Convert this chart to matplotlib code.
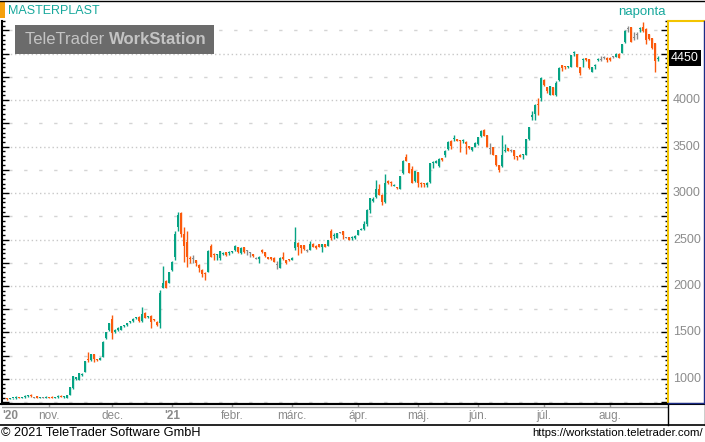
import numpy as np
import pandas as pd
import matplotlib
matplotlib.use('Agg')
import matplotlib.pyplot as plt
from matplotlib.lines import Line2D
from matplotlib.patches import Rectangle

plt.rcParams['font.family'] = ['Liberation Sans', 'DejaVu Sans']

# daily OHLC, MASTERPLAST, Oct 2020 - Aug 2021
opens = [795, 785, 792, 798, 806, 798, 805, 814, 826, 800,
         812, 800, 801, 800, 806, 808, 800, 802, 820, 806,
         800, 830, 900, 1005, 992, 1045, 1080, 1215, 1205, 1265,
         1215, 1205, 1240, 1440, 1525, 1645, 1500, 1530, 1530, 1565,
         1580, 1610, 1620, 1655, 1670, 1620, 1710, 1665, 1675, 1638,
         1615, 1605, 1980, 2055, 2035, 2170, 2315, 2630, 2785, 2560,
         2470, 2305, 2300, 2275, 2225, 2170, 2145, 2155, 2425, 2345,
         2330, 2300, 2345, 2362, 2350, 2362, 2386, 2415, 2351, 2415,
         2379, 2362, 2340, 2300, 2290, 2387, 2362, 2308, 2308, 2305,
         2230, 2198, 2315, 2276, 2290, 2280, 2404, 2465, 2440, 2440,
         2380, 2390, 2447, 2432, 2447, 2422, 2447, 2430, 2589, 2535,
         2520, 2576, 2587, 2522, 2522, 2512, 2518, 2548, 2605, 2610,
         2667, 2820, 2915, 2957, 3043, 2982, 2900, 3134, 3112, 3080,
         3065, 3043, 3210, 3387, 3319, 3253, 3127, 3225, 3110, 3105,
         3090, 3115, 3325, 3325, 3290, 3377, 3408, 3472, 3560, 3578,
         3577, 3563, 3558, 3550, 3507, 3461, 3500, 3525, 3610, 3683,
         3620, 3480, 3496, 3408, 3296, 3290, 3450, 3482, 3454, 3461,
         3395, 3412, 3408, 3412, 3577, 3820, 3850, 3955, 4020, 4220,
         4135, 4058, 4138, 4051, 4220, 4373, 4360, 4350, 4359, 4505,
         4493, 4355, 4430, 4450, 4438, 4305, 4370, 4435, 4440, 4455,
         4455, 4455, 4465, 4465, 4500, 4510, 4620, 4765, 4782, 4675,
         4700, 4760, 4790, 4765, 4710, 4663, 4610, 4440]
highs = [800, 797, 800, 812, 810, 803, 826, 828, 835, 804,
         820, 804, 804, 812, 808, 812, 803, 824, 823, 818,
         830, 915, 1035, 1020, 1065, 1062, 1195, 1295, 1270, 1270,
         1220, 1235, 1405, 1510, 1605, 1690, 1540, 1555, 1575, 1580,
         1605, 1625, 1655, 1668, 1680, 1770, 1720, 1680, 1685, 1642,
         1620, 1955, 2215, 2060, 2155, 2265, 2590, 2800, 2795, 2630,
         2590, 2320, 2335, 2285, 2235, 2180, 2150, 2385, 2450, 2355,
         2345, 2380, 2365, 2368, 2375, 2380, 2440, 2420, 2415, 2420,
         2385, 2368, 2345, 2315, 2320, 2400, 2365, 2312, 2312, 2308,
         2265, 2310, 2369, 2280, 2295, 2310, 2635, 2470, 2445, 2445,
         2395, 2482, 2460, 2436, 2450, 2452, 2450, 2498, 2617, 2565,
         2575, 2580, 2592, 2530, 2525, 2540, 2545, 2605, 2620, 2700,
         2825, 2950, 2955, 3140, 3100, 2990, 3200, 3140, 3125, 3098,
         3070, 3185, 3360, 3420, 3325, 3290, 3240, 3230, 3115, 3110,
         3115, 3325, 3345, 3350, 3375, 3380, 3458, 3558, 3565, 3620,
         3582, 3568, 3578, 3555, 3510, 3495, 3545, 3605, 3683, 3690,
         3625, 3540, 3500, 3412, 3300, 3620, 3530, 3486, 3478, 3468,
         3400, 3416, 3420, 3580, 3712, 3880, 3952, 4020, 4245, 4225,
         4140, 4155, 4142, 4200, 4352, 4378, 4365, 4370, 4485, 4530,
         4497, 4360, 4450, 4455, 4442, 4355, 4390, 4455, 4475, 4470,
         4460, 4460, 4475, 4505, 4505, 4605, 4750, 4795, 4790, 4730,
         4730, 4790, 4840, 4770, 4715, 4668, 4615, 4470]
lows = [772, 782, 788, 790, 796, 795, 796, 810, 806, 796,
        798, 797, 797, 796, 798, 798, 796, 800, 805, 800,
        796, 825, 895, 985, 985, 1035, 1075, 1180, 1198, 1180,
        1195, 1200, 1235, 1430, 1520, 1430, 1490, 1520, 1525, 1555,
        1575, 1605, 1615, 1650, 1610, 1615, 1655, 1655, 1550, 1620,
        1570, 1550, 1975, 1975, 2030, 2165, 2280, 2590, 2530, 2260,
        2200, 2250, 2250, 2220, 2150, 2100, 2060, 2150, 2310, 2280,
        2280, 2285, 2335, 2325, 2333, 2355, 2380, 2355, 2345, 2355,
        2333, 2315, 2315, 2287, 2250, 2355, 2315, 2290, 2280, 2255,
        2180, 2190, 2280, 2240, 2272, 2275, 2390, 2330, 2351, 2390,
        2370, 2385, 2418, 2400, 2418, 2370, 2418, 2425, 2500, 2510,
        2515, 2570, 2510, 2515, 2495, 2495, 2510, 2545, 2600, 2605,
        2650, 2790, 2905, 2950, 2975, 2870, 2895, 3100, 3080, 3075,
        3045, 3040, 3205, 3340, 3210, 3105, 3120, 3070, 3070, 3060,
        3060, 3110, 3270, 3320, 3280, 3340, 3390, 3468, 3470, 3560,
        3555, 3437, 3535, 3420, 3475, 3455, 3495, 3520, 3605, 3610,
        3490, 3420, 3405, 3290, 3225, 3285, 3440, 3450, 3440, 3370,
        3355, 3385, 3365, 3408, 3570, 3790, 3790, 3840, 3990, 4155,
        4080, 4050, 4050, 4045, 4200, 4310, 4335, 4340, 4355, 4475,
        4350, 4270, 4350, 4425, 4335, 4300, 4330, 4420, 4425, 4445,
        4410, 4425, 4455, 4460, 4450, 4505, 4615, 4730, 4620, 4650,
        4655, 4730, 4735, 4600, 4650, 4550, 4300, 4420]
closes = [780, 795, 798, 802, 798, 800, 812, 824, 812, 800,
          800, 802, 801, 806, 800, 800, 801, 820, 807, 810,
          825, 910, 1030, 1012, 1060, 1052, 1190, 1200, 1265, 1215,
          1200, 1230, 1400, 1505, 1600, 1495, 1530, 1545, 1570, 1572,
          1600, 1615, 1650, 1662, 1620, 1695, 1660, 1672, 1615, 1630,
          1580, 1930, 2030, 1980, 2150, 2260, 2560, 2760, 2560, 2425,
          2315, 2290, 2300, 2245, 2190, 2125, 2125, 2380, 2315, 2338,
          2336, 2375, 2360, 2333, 2360, 2370, 2429, 2362, 2411, 2362,
          2379, 2362, 2320, 2300, 2310, 2362, 2320, 2294, 2287, 2262,
          2230, 2305, 2290, 2251, 2276, 2305, 2468, 2415, 2404, 2394,
          2380, 2447, 2422, 2404, 2422, 2447, 2422, 2493, 2518, 2545,
          2570, 2576, 2548, 2522, 2500, 2518, 2537, 2600, 2612, 2667,
          2820, 2946, 2935, 3043, 2982, 2900, 3110, 3105, 3108, 3090,
          3050, 3180, 3344, 3344, 3217, 3110, 3235, 3110, 3100, 3100,
          3110, 3320, 3333, 3344, 3370, 3355, 3454, 3553, 3507, 3590,
          3560, 3560, 3563, 3532, 3479, 3490, 3542, 3602, 3665, 3613,
          3496, 3480, 3412, 3306, 3243, 3412, 3458, 3454, 3454, 3394,
          3388, 3390, 3414, 3577, 3708, 3835, 3948, 3945, 4240, 4160,
          4100, 4149, 4058, 4185, 4348, 4341, 4355, 4360, 4482, 4512,
          4355, 4294, 4440, 4430, 4340, 4350, 4378, 4442, 4440, 4455,
          4430, 4430, 4465, 4500, 4457, 4600, 4745, 4765, 4627, 4675,
          4700, 4768, 4740, 4645, 4655, 4558, 4420, 4450]

holidays = ['2020-10-23', '2020-12-24', '2020-12-25', '2020-12-31', '2021-01-01',
            '2021-03-15', '2021-04-02', '2021-04-05', '2021-05-24', '2021-08-20']
month_names = ["nov.", "dec.", "'21", "febr.", "márc.", "ápr.", "máj.", "jún.", "júl.", "aug."]
price_labels = [1000, 1500, 2000, 2500, 3000, 3500, 4000]

days = pd.bdate_range('2020-10-12', '2021-08-31')
days = days[~days.isin(pd.to_datetime(holidays))][:len(closes)]
idx = pd.Series(np.arange(len(days)), index=days)
month_first = idx.groupby(days.to_period('M')).first().values[1:]

o = np.array(opens, float)
h = np.array(highs, float)
l = np.array(lows, float)
c = np.array(closes, float)
x = np.arange(len(c))

GREEN = '#06a384'
ORANGE = '#fb5a0c'
GRAY = '#8a8a8a'
cols = np.where(c > o, GREEN, np.where(c < o, ORANGE, GRAY))

W, H = 705, 442
def fx(px):
    return px / W
def fy(py):
    return 1 - py / H

fig = plt.figure(figsize=(W / 100, H / 100), dpi=100)
fig.patch.set_facecolor('white')

ax = fig.add_axes([fx(2), fy(404), fx(668) - fx(2), fy(21) - fy(404)])
ax.set_xlim(-1.7, 220.3)
ax.set_ylim(731, 4850)

# grid
for v in range(1000, 5000, 500):
    ax.axhline(v, color='#c8c8c8', lw=1, ls=(0, (1, 2)), zorder=0)
for v in range(750, 5000, 500):
    ax.axhline(v, color='#d4d4d4', lw=1, ls=(6, (2.4, 8.4)), zorder=0)

# candles
ax.vlines(x, l, h, colors=cols, lw=1, zorder=2)
body = np.maximum(np.abs(c - o), 11)
bottom = np.where(c == o, o - 5.5, np.minimum(o, c))
ax.bar(x, body, bottom=bottom, width=0.75, color=cols, linewidth=0, zorder=3)

ax.set_xticks([])
ax.set_yticks(np.arange(750, 4851, 250))
ax.set_yticks(np.arange(750, 4851, 50), minor=True)
ax.tick_params(axis='y', which='major', direction='in', length=5, width=1, color='black',
               left=True, right=True, labelleft=False, labelright=False)
ax.tick_params(axis='y', which='minor', direction='in', length=2.5, width=1, color='black',
               left=True, right=True)
ax.spines['top'].set_visible(False)
ax.spines['left'].set_color('black')
ax.spines['left'].set_linewidth(1.5)
ax.spines['bottom'].set_color('black')
ax.spines['bottom'].set_linewidth(1.5)
ax.spines['right'].set_color('#f3c400')
ax.spines['right'].set_linewidth(1.5)

for v in price_labels:
    ax.annotate(str(v), xy=(1, v), xycoords=('axes fraction', 'data'), xytext=(3.5, 0),
                textcoords='offset points', ha='left', va='center', color='#8c8c8c',
                fontsize=9, annotation_clip=False)
ax.annotate(f'{closes[-1]}', xy=(1, closes[-1]), xycoords=('axes fraction', 'data'),
            xytext=(2.2, 0), textcoords='offset points', ha='left', va='center',
            color='white', fontsize=9, annotation_clip=False,
            bbox=dict(boxstyle='square,pad=0.18', fc='black', ec='none'))

# date strip
axd = fig.add_axes([fx(2), fy(424), fx(668) - fx(2), fy(404) - fy(424)])
axd.set_xlim(ax.get_xlim())
axd.set_ylim(0, 1)
axd.axis('off')
axd.axhline(0.85, color='#9a9a9a', lw=1)
axd.vlines(month_first, 0.85, 1.0, color='#9a9a9a', lw=1)
for i, name in zip(month_first, month_names):
    axd.text(i, 0.38, name, ha='center', va='center', color='#8a8a8a', fontsize=8.5,
             fontweight='bold' if name.startswith("'") else 'normal')
axd.text(0.0, 0.38, "'20", transform=axd.transAxes, ha='left', va='center',
         color='#8a8a8a', fontsize=8.5, fontweight='bold')

# frame lines
def fline(xs, ys, color='black', lw=1.0):
    fig.add_artist(Line2D([fx(v) for v in xs], [fy(v) for v in ys], color=color, lw=lw))

fline([0, W], [0.5, 0.5])
fline([0, W], [404, 404], lw=1.5)
fline([0, W], [424.5, 424.5], lw=1.2)
fline([667.5, 667.5], [404, 424.5])
fline([704.5, 704.5], [404, 424.5])
fline([668, 704], [21, 21], color='#f3c400', lw=1.5)
fline([703.5, 703.5], [21, 403], color='#1c2c86', lw=1.0)
fline([668, 703.5], [403, 403], color='#1c2c86', lw=1.0)

# header
fig.add_artist(Rectangle((0, fy(18)), fx(5), fy(1) - fy(18), color='#f5a00c', lw=0))
fig.text(fx(8), fy(10.5), 'MASTERPLAST', color='#17a89c', fontsize=9, ha='left', va='center')
fig.text(fx(666), fy(12), 'naponta', color='#17a89c', fontsize=9.5, ha='right', va='center')

# watermark
fig.add_artist(Rectangle((fx(15), fy(54)), fx(214) - fx(15), fy(25) - fy(54), color='#6b6b6b', lw=0))
t1 = fig.text(fx(25), fy(40), 'TeleTrader ', color='#c4c4c4', fontsize=12, ha='left', va='center')
fig.canvas.draw()
bb = t1.get_window_extent()
fig.text(bb.x1 / W, fy(40), 'WorkStation', color='#c4c4c4', fontsize=12, fontweight='bold',
         ha='left', va='center')

# footer
fig.text(fx(1), fy(433), '© 2021 TeleTrader Software GmbH', color='black', fontsize=9.2, ha='left', va='center')
fig.text(fx(703), fy(433), 'https://workstation.teletrader.com/', color='black', fontsize=8.2,
         ha='right', va='center')

fig.savefig('out.png', dpi=100)
